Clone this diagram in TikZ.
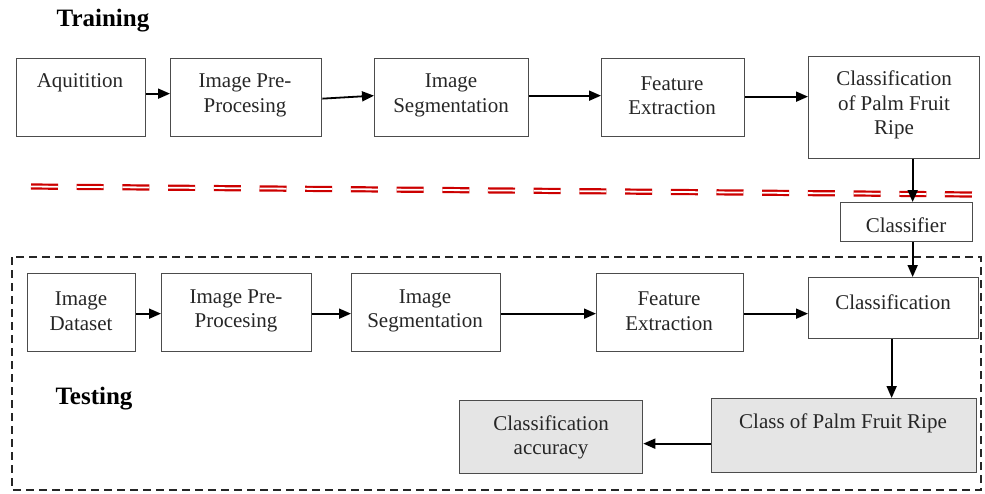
\documentclass[tikz,border=0pt]{standalone}
\usepackage{fontspec}
\setmainfont{Liberation Serif}
\usetikzlibrary{arrows.meta}
\begin{document}
\begin{tikzpicture}[x=1pt,y=-1pt,
  box/.style={draw=black!70,line width=1.3pt,inner sep=0pt,anchor=north west},
  gbox/.style={box,fill=black!10},
  txt/.style={font=\fontsize{21}{24.5}\selectfont,align=center,inner sep=0pt,text=black!85,yshift=-3pt},
  ttl/.style={font=\fontsize{25}{28}\selectfont\bfseries,inner sep=0pt,yshift=-3pt},
  arr/.style={draw=black,line width=1.8pt,-{Triangle[length=12pt,width=10pt]}},
  redline/.style={draw=red!80!black,double=white,double distance=1.8pt,line width=2.2pt,dash pattern=on 27pt off 18.7pt},
  frame/.style={draw=black!85,line width=1.8pt,dash pattern=on 8pt off 5pt}]
\useasboundingbox (0,0) rectangle (985,493);
% frame of testing part
\draw[frame] (12,257) rectangle (981,490);
% titles
\node[ttl] (tTrain) at (103,18) {Training};
\node[ttl] (tTest) at (94,396) {Testing};
% training row
\node[box,minimum width=129pt,minimum height=78pt] (a1) at (16,58) {};
\node[txt] (a1t) at (80,80) {Aquitition};
\node[box,minimum width=151pt,minimum height=78pt] (a2) at (170,58) {};
\node[txt] (a2t) at (245,92.5) {Image Pre-\\Procesing};
\node[box,minimum width=154pt,minimum height=78pt] (a3) at (374,58) {};
\node[txt] (a3t) at (451,92.5) {Image\\Segmentation};
\node[box,minimum width=143pt,minimum height=78pt] (a4) at (601,58) {};
\node[txt] (a4t) at (672,92.5) {Feature\\Extraction};
\node[box,minimum width=171pt,minimum height=102pt] (a5) at (808,56) {};
\node[txt] (a5t) at (894,102) {Classification\\of Palm Fruit\\Ripe};
% classifier
\node[box,minimum width=132pt,minimum height=39pt] (clf) at (840,202) {};
\node[txt] (clft) at (906,222) {Classifier};
% testing row
\node[box,minimum width=108pt,minimum height=78pt] (b1) at (27,273) {};
\node[txt] (b1t) at (81,308) {Image\\Dataset};
\node[box,minimum width=150pt,minimum height=78pt] (b2) at (161,273) {};
\node[txt] (b2t) at (236,308) {Image Pre-\\Procesing};
\node[box,minimum width=149pt,minimum height=78pt] (b3) at (351,273) {};
\node[txt] (b3t) at (425,308) {Image\\Segmentation};
\node[box,minimum width=147pt,minimum height=78pt] (b4) at (596,273) {};
\node[txt] (b4t) at (669,308) {Feature\\Extraction};
\node[box,minimum width=170pt,minimum height=61pt] (b5) at (808,277) {};
\node[txt] (b5t) at (893,299) {Classification};
\node[gbox,minimum width=265pt,minimum height=74pt] (c1) at (711,398) {};
\node[txt] (c1t) at (843,420) {Class of Palm Fruit Ripe};
\node[gbox,minimum width=183pt,minimum height=73pt] (c2) at (459,400) {};
\node[txt] (c2t) at (551,434.5) {Classification\\accuracy};
% red separator
\coordinate (r1) at (31,186.5);
\coordinate (r2) at (972,194.5);
\draw[redline] (r1) -- (r2);
% training arrows
\draw[arr] ([yshift=4pt]a1.east) -- ([yshift=4pt]a2.west);
\draw[arr] ([yshift=-1pt]a2.east) -- ([yshift=2pt]a3.west);
\draw[arr] ([yshift=2pt]a3.east) -- ([yshift=2pt]a4.west);
\draw[arr] ([yshift=1pt]a4.east) -- ([yshift=1pt]a5.west |- a4.east);
\draw[arr] ([xshift=18.5pt]a5.south) -- ([xshift=18.5pt]a5.south |- clf.north);
\draw[arr] ([xshift=6pt]clf.south) -- ([xshift=6pt]clf.south |- b5.north);
% testing arrows
\draw[arr] ([yshift=-1pt]b1.east) -- ([yshift=-1pt]b2.west);
\draw[arr] ([yshift=-1pt]b2.east) -- ([yshift=-1pt]b3.west);
\draw[arr] ([yshift=-1pt]b3.east) -- ([yshift=-1pt]b4.west);
\draw[arr] ([yshift=-1pt]b4.east) -- ([yshift=-1pt]b5.west |- b4.east);
\draw[arr] ([xshift=-2pt]b5.south) -- ([xshift=-2pt]b5.south |- c1.north);
\draw[arr] ([yshift=-8pt]c1.west) -- ([yshift=-8pt]c2.east |- c1.west);
\end{tikzpicture}
\end{document}
